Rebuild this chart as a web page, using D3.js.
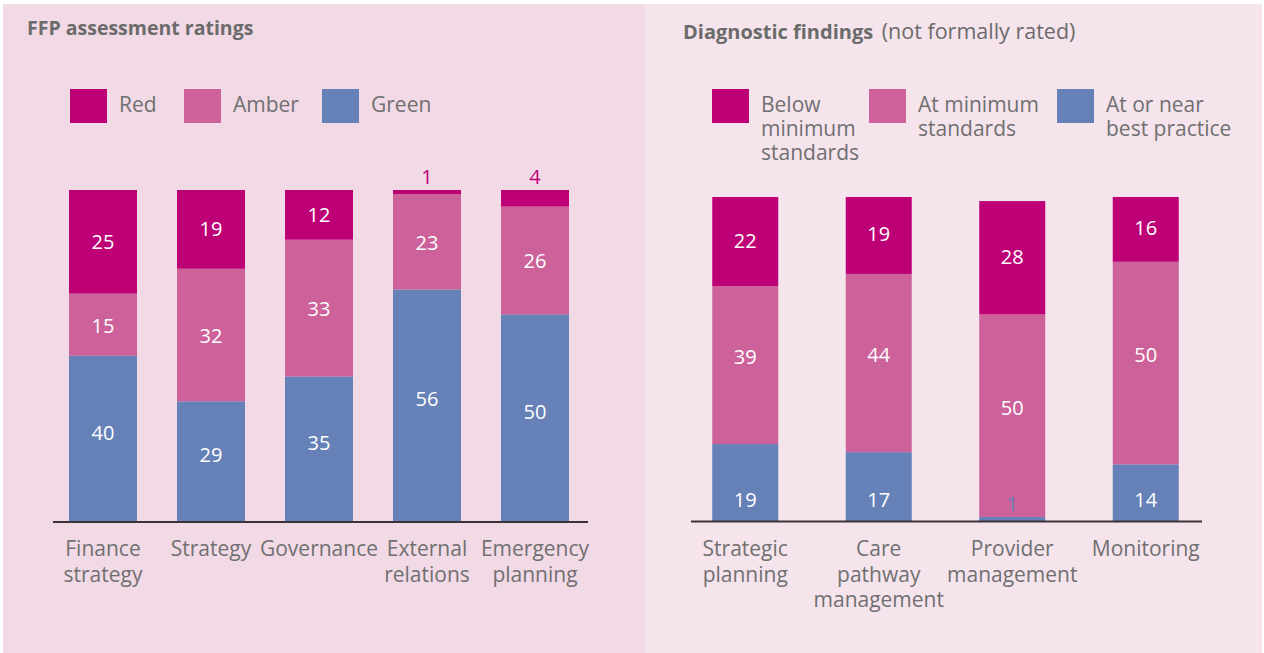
<!DOCTYPE html>
<html>
<head>
<meta charset="utf-8">
<script src="https://cdn.jsdelivr.net/npm/d3@7"></script>
<style>
  html, body { margin: 0; padding: 0; background: #ffffff; }
  svg { display: block; font-family: "Open Sans", "Noto Sans", sans-serif; }
</style>
</head>
<body>
<svg id="chart" width="1264" height="653"></svg>
<script>
// FFP assessment ratings (left panel)
const ratingCategories = [["Finance", "strategy"], ["Strategy"], ["Governance"], ["External", "relations"], ["Emergency", "planning"]];
const ratingRed   = [25, 19, 12, 1, 4];
const ratingAmber = [15, 32, 33, 23, 26];
const ratingGreen = [40, 29, 35, 56, 50];
const ratingLegend = [["Red"], ["Amber"], ["Green"]];

// Diagnostic findings (right panel)
const findingCategories = [["Strategic", "planning"], ["Care", "pathway", "management"], ["Provider", "management"], ["Monitoring"]];
const findingBelow = [22, 19, 28, 16];
const findingAt    = [39, 44, 50, 50];
const findingBest  = [19, 17, 1, 14];
const findingLegend = [["Below", "minimum", "standards"], ["At minimum", "standards"], ["At or near", "best practice"]];

const yMax = 80;

const COLORS = { top: "#be0077", mid: "#cc6299", low: "#6680b8" };
const TEXT = "#707070";

const svg = d3.select("#chart");

// panel backgrounds
svg.append("rect").attr("x", 3).attr("y", 4).attr("width", 642).attr("height", 649).attr("fill", "#f2d9e6");
svg.append("rect").attr("x", 645).attr("y", 4).attr("width", 617).attr("height", 649).attr("fill", "#f5e4ec");

function drawPanel(cfg) {
  const g = svg.append("g");

  // title
  const title = g.append("text")
    .attr("x", cfg.titleX).attr("y", cfg.titleY)
    .attr("fill", "#6b6b6b").attr("font-size", cfg.titleSize);
  title.append("tspan").attr("font-weight", "bold").text(cfg.title);
  if (cfg.subtitle) title.append("tspan").attr("font-weight", "normal")
    .attr("font-size", 21.5).attr("dx", 3).text(" " + cfg.subtitle);

  // legend
  const legendColors = [COLORS.top, COLORS.mid, COLORS.low];
  cfg.legend.forEach((lines, i) => {
    const lx = cfg.legendX[i];
    g.append("rect").attr("x", lx).attr("y", 89).attr("width", 37).attr("height", 34).attr("fill", legendColors[i]);
    const t = g.append("text").attr("x", lx + 49).attr("y", 112).attr("fill", TEXT).attr("font-size", 21);
    lines.forEach((ln, j) => t.append("tspan").attr("x", lx + 49).attr("dy", j === 0 ? 0 : 24).text(ln));
  });

  const n = cfg.categories.length;
  const idx = d3.range(n);
  const x = d3.scaleBand().domain(idx).range(cfg.xRange)
    .paddingInner(cfg.padInner).paddingOuter(cfg.padInner / 2);
  const y = d3.scaleLinear().domain([0, yMax]).range([cfg.baseY, cfg.topY]);

  const rows = idx.map(i => ({ i, low: cfg.low[i], mid: cfg.mid[i], top: cfg.top[i] }));
  const stack = d3.stack().keys(["low", "mid", "top"])(rows);

  // segments
  stack.forEach(layer => {
    g.append("g").selectAll("rect").data(layer).join("rect")
      .attr("x", d => x(d.data.i))
      .attr("width", x.bandwidth())
      .attr("y", d => y(d[1]))
      .attr("height", d => y(d[0]) - y(d[1]))
      .attr("fill", COLORS[layer.key]);
  });

  // value labels, drawn over all segments
  stack.forEach(layer => {
    const color = COLORS[layer.key];
    const shift = cfg.labelShift[layer.key];
    g.append("g").selectAll("text").data(layer).join("text")
      .attr("x", d => x(d.data.i) + x.bandwidth() / 2)
      .attr("y", d => {
        const v = d[1] - d[0];
        if (v < 5) return y(d[1]) - 6;
        let cy = (y(d[0]) + y(d[1])) / 2 + shift;
        if (layer.key === "low" && cfg.lowMaxY) cy = Math.max(cy, cfg.lowMaxY);
        return cy + 7;
      })
      .attr("text-anchor", "middle")
      .attr("font-size", 20)
      .attr("fill", d => (d[1] - d[0]) < 5 ? color : "#ffffff")
      .text(d => d[1] - d[0]);
  });

  // baseline
  g.append("line")
    .attr("x1", cfg.axisX[0]).attr("x2", cfg.axisX[1])
    .attr("y1", cfg.baseY + 0.5).attr("y2", cfg.baseY + 0.5)
    .attr("stroke", "#3c3336").attr("stroke-width", 2);

  // category labels
  cfg.categories.forEach((lines, i) => {
    const cx = x(i) + x.bandwidth() / 2;
    const t = g.append("text").attr("x", cx).attr("y", 556)
      .attr("text-anchor", "middle").attr("fill", TEXT).attr("font-size", 21);
    lines.forEach((ln, j) => t.append("tspan").attr("x", cx).attr("dy", j === 0 ? 0 : 25.5).text(ln));
  });
}

drawPanel({
  title: "FFP assessment ratings", titleSize: 19.5,
  titleX: 27, titleY: 35,
  legend: ratingLegend, legendX: [70, 184, 322],
  categories: ratingCategories,
  top: ratingRed, mid: ratingAmber, low: ratingGreen,
  xRange: [49, 589], padInner: 40 / 108,
  topY: 190, baseY: 521.5,
  axisX: [53, 588],
  labelShift: { top: 0, mid: 1, low: -6 }
});

drawPanel({
  title: "Diagnostic findings", subtitle: "(not formally rated)", titleSize: 20,
  titleX: 683, titleY: 39,
  legend: findingLegend, legendX: [712, 869, 1057],
  categories: findingCategories,
  top: findingBelow, mid: findingAt, low: findingBest,
  xRange: [678.5, 1212.5], padInner: 67.5 / 133.5,
  topY: 197, baseY: 521,
  axisX: [691, 1202],
  labelShift: { top: -1, mid: -8, low: 0 },
  lowMaxY: 500
});
</script>
</body>
</html>
